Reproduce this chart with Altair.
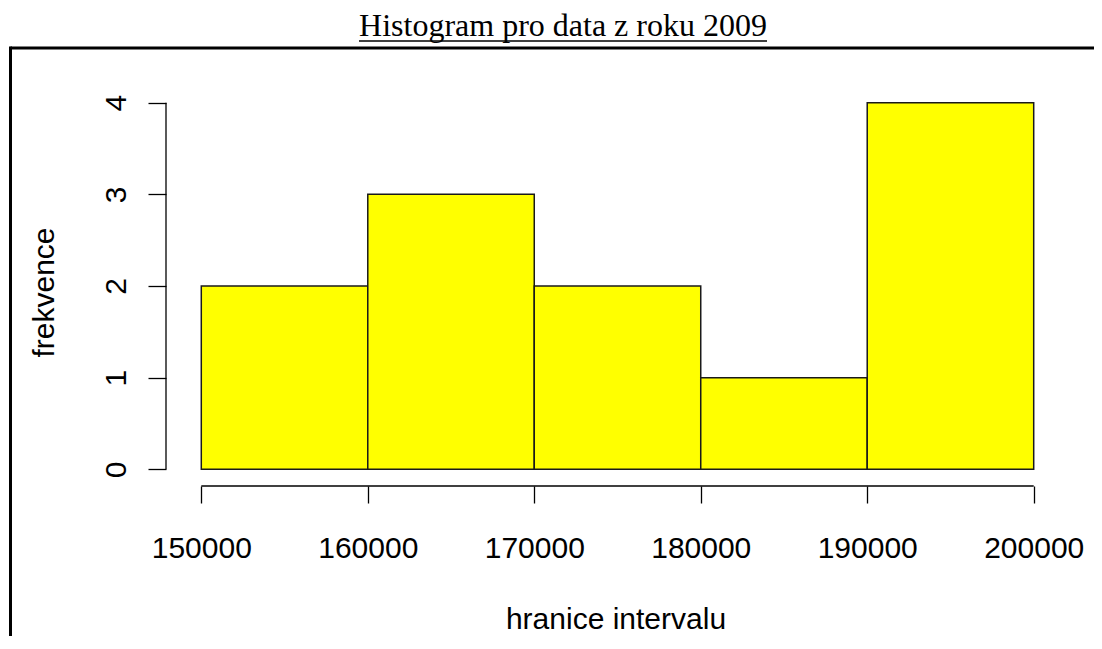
import altair as alt
import pandas as pd

# ---- data ----
bin_start = [150000, 160000, 170000, 180000, 190000]
bin_end = [160000, 170000, 180000, 190000, 200000]
counts = [2, 3, 2, 1, 4]
x_ticks = [150000, 160000, 170000, 180000, 190000, 200000]
y_ticks = [0, 1, 2, 3, 4]

title_text = "Histogram pro data z roku 2009"
x_title = "hranice intervalu"
y_title = "frekvence"

SANS = "Liberation Sans"
SERIF = "Liberation Serif"

df = pd.DataFrame({"start": bin_start, "end": bin_end, "count": counts})

# R-style 4% range extension
x_dom = [x_ticks[0] - 0.04 * (x_ticks[-1] - x_ticks[0]), x_ticks[-1] + 0.04 * (x_ticks[-1] - x_ticks[0])]
y_dom = [y_ticks[0] - 0.04 * (y_ticks[-1] - y_ticks[0]), y_ticks[-1] + 0.04 * (y_ticks[-1] - y_ticks[0])]
xscale = alt.Scale(domain=x_dom, nice=False, zero=False)
yscale = alt.Scale(domain=y_dom, nice=False, zero=False)

W, H = 899, 396

x_axis = alt.Axis(
    values=x_ticks, format="d", tickSize=17, offset=2,
    labelPadding=30, labelBaseline="top", labelAlign="center", labelAngle=0,
    labelFlush=False, labelOverlap=False,
    title=x_title, titleX=447.5, titleY=142, titleAlign="center", titleBaseline="alphabetic",
)
y_axis = alt.Axis(
    values=y_ticks, format="d", tickSize=18, offset=2,
    labelAngle=270, labelAlign="center", labelBaseline="alphabetic", labelPadding=23,
    labelFlush=False, labelOverlap=False,
    title=y_title, titleAngle=270, titleX=-113, titleY=204, titleAlign="center", titleBaseline="alphabetic",
)

bars = alt.Chart(df).mark_rect(fill="#FFFF00", stroke="#1a1a1a", strokeWidth=1.5).encode(
    x=alt.X("start:Q", scale=xscale, axis=x_axis),
    x2="end:Q",
    y=alt.Y("count:Q", scale=yscale, axis=y_axis),
    y2=alt.datum(0),
)

xline_df = pd.DataFrame({"start": [x_ticks[0]], "end": [x_ticks[-1]]})
x_axis_line = alt.Chart(xline_df).mark_rule(color="black", strokeWidth=1.3).encode(
    x=alt.X("start:Q", scale=xscale, axis=x_axis), x2="end:Q", y=alt.value(H + 2)
)
yline_df = pd.DataFrame({"count": [y_ticks[-1]], "low": [y_ticks[0]]})
y_axis_line = alt.Chart(yline_df).mark_rule(color="black", strokeWidth=1.3).encode(
    y=alt.Y("count:Q", scale=yscale, axis=y_axis), y2="low:Q", x=alt.value(-2)
)

one = pd.DataFrame({"t": [title_text]})
frame_top = alt.Chart(one).mark_rule(color="black", strokeWidth=3).encode(
    x=alt.value(-157.5), x2=alt.value(930), y=alt.value(-40)
)
frame_left = alt.Chart(one).mark_rule(color="black", strokeWidth=3).encode(
    x=alt.value(-157.5), y=alt.value(-41.5), y2=alt.value(560)
)
title = alt.Chart(one).mark_text(
    font=SERIF, fontSize=32, color="black", align="center", baseline="alphabetic"
).encode(text="t:N", x=alt.value(395), y=alt.value(-52))
underline = alt.Chart(one).mark_rule(color="black", strokeWidth=1.5).encode(
    x=alt.value(191), x2=alt.value(599), y=alt.value(-47)
)

chart = alt.layer(
    bars, x_axis_line, y_axis_line, frame_top, frame_left, title, underline
).properties(
    width=W, height=H,
    padding={"left": 160, "top": 80, "right": 27, "bottom": 152},
    autosize=alt.AutoSizeParams(type="none"),
).configure_view(stroke=None).configure_axis(
    grid=False, domain=False, tickColor="black", tickWidth=1.3,
    labelFont=SANS, labelFontSize=30, labelColor="black",
    titleFont=SANS, titleFontSize=30, titleFontWeight="normal", titleColor="black",
)

chart.save("out.html", embed_options={"renderer": "svg", "actions": False})
